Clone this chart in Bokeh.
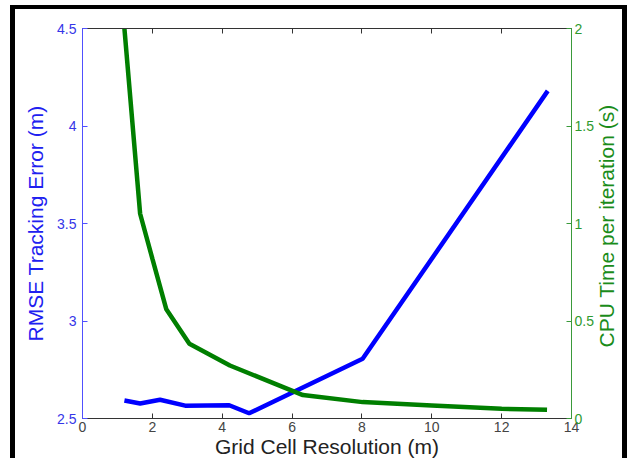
import math
from bokeh.plotting import figure
from bokeh.models import Range1d, LinearAxis, FixedTicker, CustomJSTickFormatter
from bokeh.embed import file_html
from bokeh.resources import INLINE

# Data
res_rmse = [1.2, 1.65, 2.22, 2.94, 4.2, 4.77, 8.02, 13.32]
rmse = [2.592, 2.577, 2.596, 2.566, 2.568, 2.527, 2.806, 4.18]

res_cpu = [1.2, 1.65, 2.0, 2.4, 3.06, 4.22, 6.31, 8.02, 10.0, 12.0, 13.3]
cpu = [2.0, 1.05, 0.82, 0.56, 0.383, 0.272, 0.12, 0.084, 0.067, 0.05, 0.045]

x_ticks = [0, 2, 4, 6, 8, 10, 12, 14]
rmse_ticks = [2.5, 3, 3.5, 4, 4.5]
cpu_ticks = [0, 0.5, 1, 1.5, 2]
cpu_title = "CPU Time per iteration (s)"

FONT = "Liberation Sans"
BLUE = "#0000ff"
GREEN = "#007f00"
BLUE_TXT = "#3535e8"
GREEN_TXT = "#2f9a2f"
GREEN_LBL = "#1a8c1a"
GRAY = "#444444"

W, H = 617, 453
p = figure(width=W, height=H, output_backend="svg", toolbar_location=None,
           x_range=Range1d(0, 14), y_range=Range1d(2.5, 4.5),
           min_border_left=67, min_border_right=59, min_border_top=19, min_border_bottom=44,
           x_axis_location=None, y_axis_location=None)
p.styles = {"margin-left": "10px", "margin-top": "5px",
            "border-left": "5px solid black", "border-top": "4px solid black",
            "border-right": "5px solid black"}
p.extra_y_ranges = {"cpu": Range1d(0, 2)}
p.grid.visible = False
p.outline_line_color = None
p.background_fill_color = "white"
p.border_fill_color = "white"

fmt = CustomJSTickFormatter(code="return String(tick);")


def style(ax, color, txtcolor):
    ax.axis_line_color = color
    ax.axis_line_width = 1
    ax.major_tick_line_color = color
    ax.major_tick_in = 5
    ax.major_tick_out = 0
    ax.minor_tick_line_color = None
    ax.major_label_text_color = txtcolor
    ax.major_label_text_font = FONT
    ax.major_label_text_font_size = "14px"
    ax.axis_label_text_font = FONT
    ax.axis_label_text_font_style = "normal"
    ax.axis_label_text_font_size = "21px"
    ax.axis_label_text_color = txtcolor
    ax.formatter = fmt


left = LinearAxis(ticker=FixedTicker(ticks=rmse_ticks), axis_label="RMSE Tracking Error (m)")
style(left, "#5050ff", BLUE_TXT)
left.axis_label_text_color = "#2020f0"
left.major_label_standoff = 6
left.axis_label_standoff = 7
p.add_layout(left, "left")

right = LinearAxis(y_range_name="cpu", ticker=FixedTicker(ticks=cpu_ticks))
style(right, "#3a9a3a", GREEN_TXT)
right.major_label_standoff = 3
p.add_layout(right, "right")

# title-only axis on the right, reading bottom-to-top like the reference;
# its single label starts at the bottom of the title and runs upward
right_lbl = LinearAxis(y_range_name="cpu", ticker=FixedTicker(ticks=[0.364]),
                       formatter=CustomJSTickFormatter(args=dict(t=cpu_title), code="return t;"))
right_lbl.axis_line_color = None
right_lbl.major_tick_line_color = None
right_lbl.minor_tick_line_color = None
right_lbl.major_tick_in = 0
right_lbl.major_tick_out = 0
right_lbl.major_label_text_font = FONT
right_lbl.major_label_text_font_size = "21px"
right_lbl.major_label_text_color = GREEN_LBL
right_lbl.major_label_standoff = 10
right_lbl.major_label_orientation = math.pi / 2
p.add_layout(right_lbl, "right")

bottom = LinearAxis(ticker=FixedTicker(ticks=x_ticks), axis_label="Grid Cell Resolution (m)")
style(bottom, "#333333", GRAY)
bottom.axis_label_text_color = "#222222"
bottom.major_label_standoff = 3
bottom.axis_label_standoff = 0
p.add_layout(bottom, "below")

top = LinearAxis(ticker=FixedTicker(ticks=x_ticks))
style(top, "#333333", GRAY)
top.major_label_text_color = None
top.major_label_text_font_size = "0px"
top.major_label_standoff = 0
p.add_layout(top, "above")

p.line(res_rmse, rmse, line_color=BLUE, line_width=4.5)
p.line(res_cpu, cpu, line_color=GREEN, line_width=4.5, y_range_name="cpu")

open("out.html", "w").write(file_html(p, INLINE))
